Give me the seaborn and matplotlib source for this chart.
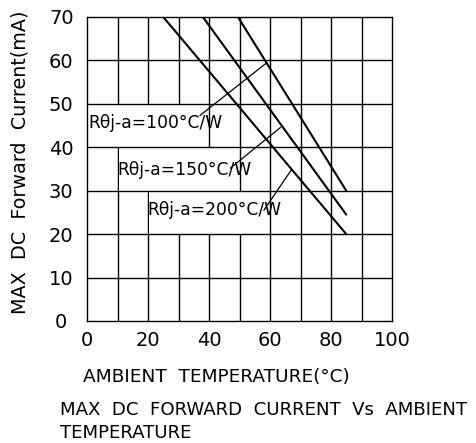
import matplotlib
matplotlib.use("Agg")
import matplotlib.pyplot as plt
import seaborn as sns
import pandas as pd
from matplotlib.patches import Rectangle

# ---- data ----
series_names = ["Rθj-a=100°C/W", "Rθj-a=150°C/W", "Rθj-a=200°C/W"]
temp_100 = [49.5, 85]
curr_100 = [70, 30]
temp_150 = [38, 85]
curr_150 = [70, 24.5]
temp_200 = [25, 85]
curr_200 = [70, 20]

x_ticks = [0, 20, 40, 60, 80, 100]
y_ticks = [0, 10, 20, 30, 40, 50, 60, 70]

# label placement (text anchor, leader line from -> to, white cell box)
label_xy = [(0.3, 45.6), (9.8, 34.8), (19.8, 25.5)]
leader_from = [(37, 47.3), (47, 35.2), (58, 25.5)]
leader_to = [(59, 59.5), (63.5, 44.6), (67, 34.8)]
boxes = [(0, 40, 40, 10), (10, 30, 40, 10), (20, 20, 40, 10)]

sns.set_theme(style="white")
plt.rcParams["font.family"] = ["DejaVu Sans"]
plt.rcParams["text.color"] = "black"
plt.rcParams["axes.labelcolor"] = "black"
plt.rcParams["xtick.color"] = "black"
plt.rcParams["ytick.color"] = "black"

fig = plt.figure(figsize=(4.76, 4.43), dpi=100)
ax = fig.add_axes([87 / 476, 1 - 321 / 443, 305 / 476, 304 / 443])

df = pd.concat([
    pd.DataFrame({"t": temp_100, "i": curr_100, "s": series_names[0]}),
    pd.DataFrame({"t": temp_150, "i": curr_150, "s": series_names[1]}),
    pd.DataFrame({"t": temp_200, "i": curr_200, "s": series_names[2]}),
])
sns.lineplot(data=df, x="t", y="i", hue="s", palette=["black"] * 3,
             linewidth=1.5, legend=False, ax=ax, zorder=4)

ax.set_xlim(0, 100)
ax.set_ylim(0, 70)

# vertical grid
for xv in range(10, 100, 10):
    ax.axvline(xv, color="black", lw=1.0, zorder=1)
# white boxes behind labels
for (bx, by, bw, bh) in boxes:
    ax.add_patch(Rectangle((bx + 0.4, by), bw - 0.8, bh, facecolor="white",
                           edgecolor="none", zorder=2))
# horizontal grid
for yv in range(10, 70, 10):
    ax.axhline(yv, color="black", lw=1.0, zorder=3)

for name, (tx, ty), p0, p1 in zip(series_names, label_xy, leader_from, leader_to):
    ax.text(tx, ty, name, fontsize=12.3, ha="left", va="center", zorder=5,
            color="black")
    ax.plot([p0[0], p1[0]], [p0[1], p1[1]], color="black", lw=0.9, zorder=5)

for sp in ax.spines.values():
    sp.set_color("black")
    sp.set_linewidth(1.0)
    sp.set_zorder(6)

ax.set_xticks(x_ticks)
ax.set_yticks(y_ticks)
ax.set_xticklabels([str(v) for v in x_ticks], fontsize=14)
ax.set_yticklabels([str(v) for v in y_ticks], fontsize=14, ha="center")
ax.tick_params(axis="x", length=0, pad=7.5, colors="black")
ax.tick_params(axis="y", length=0, pad=18.5, colors="black")
ax.set_xlabel("")
ax.set_ylabel("MAX  DC  Forward  Current(mA)", fontsize=13.8, color="black")
ax.yaxis.set_label_coords(-0.19, 0.523)

fig.text(83 / 476, 1 - 377 / 443, "AMBIENT  TEMPERATURE(°C)", fontsize=13.3,
         ha="left", va="center", color="black")
fig.text(60 / 476, 1 - 410 / 443, "MAX  DC  FORWARD  CURRENT  Vs  AMBIENT",
         fontsize=13.1, ha="left", va="center", color="black")
fig.text(60 / 476, 1 - 433 / 443, "TEMPERATURE", fontsize=13.1, ha="left",
         va="center", color="black")

fig.savefig("out.png", dpi=100, facecolor="white")
